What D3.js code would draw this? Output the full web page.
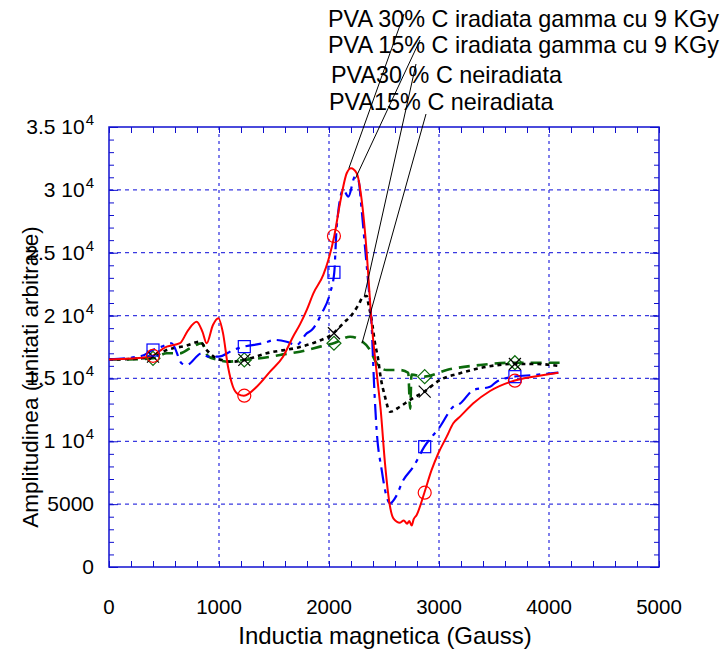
<!DOCTYPE html>
<html>
<head>
<meta charset="utf-8">
<script src="https://cdn.jsdelivr.net/npm/d3@7"></script>
<style>
  html, body { margin: 0; padding: 0; background: #ffffff; }
  svg text { font-family: "Liberation Sans", Arial, sans-serif; fill: #000; }
</style>
</head>
<body>
<svg id="chart" width="724" height="649"></svg>
<script>
// ---------------- DATA ----------------
const xTickLabels = ["0", "1000", "2000", "3000", "4000", "5000"];
const yTickValues = [0, 5000, 10000, 15000, 20000, 25000, 30000, 35000];
const yTickLabels = ["0", "5000", "1 10^4", "1.5 10^4", "2 10^4", "2.5 10^4", "3 10^4", "3.5 10^4"];

const seriesNames = [
  "PVA 30% C iradiata gamma cu 9 KGy",
  "PVA 15% C iradiata gamma cu 9 KGy",
  "PVA30 % C neiradiata",
  "PVA15% C neiradiata"
];

// PVA 30% C irradiated (red, solid, circles)
const redX = [0, 370, 525, 645, 720, 797, 850, 888, 945, 994, 1036, 1082, 1127, 1173, 1227, 1343, 1464, 1582, 1673, 1736, 1800, 1858, 1948, 1994, 2048, 2100, 2161, 2200, 2252, 2297, 2343, 2382, 2439, 2470, 2509, 2555, 2585, 2645, 2680, 2710, 2730, 2752, 2770, 2797, 2867, 2933, 2994, 3070, 3130, 3191, 3312, 3464, 3682, 3857, 4085];
const redY = [16500, 16730, 17530, 17800, 18850, 19510, 18700, 17800, 19250, 19790, 18620, 15930, 14340, 13760, 13630, 14340, 15540, 16730, 18320, 19300, 20500, 21770, 23230, 24420, 26330, 28930, 31320, 31720, 31320, 29200, 25000, 20000, 15000, 12500, 8250, 4800, 3870, 3520, 3700, 3450, 3650, 3300, 3800, 4140, 5910, 7720, 9050, 10370, 11430, 11960, 13020, 14000, 14820, 15140, 15460];

// PVA 15% C irradiated (blue, dash-dot, squares)
const blueX = [0, 300, 397, 479, 570, 661, 706, 843, 903, 994, 1130, 1227, 1403, 1509, 1615, 1706, 1797, 1843, 1934, 2009, 2048, 2070, 2130, 2176, 2236, 2267, 2297, 2327, 2357, 2388, 2410, 2433, 2479, 2524, 2555, 2600, 2676, 2767, 2867, 3009, 3130, 3191, 3312, 3464, 3524, 3682, 3857, 4085];
const blueY = [16500, 16800, 17260, 17530, 17800, 16200, 16070, 17000, 16730, 16730, 17260, 17530, 17800, 18060, 17920, 17660, 18590, 18850, 20180, 21770, 23440, 27070, 30000, 29460, 31050, 30790, 28400, 25480, 22570, 19120, 14500, 10900, 7720, 5590, 5070, 5470, 6920, 7980, 9570, 11160, 12750, 13000, 14080, 14340, 14740, 15140, 15270, 15460];

// PVA 30% C non-irradiated (black, dotted, X)
const blackX = [0, 300, 403, 525, 700, 827, 888, 979, 1130, 1227, 1433, 1736, 1888, 2039, 2130, 2206, 2267, 2312, 2343, 2357, 2388, 2418, 2448, 2464, 2509, 2555, 2645, 2736, 2867, 3009, 3191, 3433, 3682, 3888, 4085];
const blackY = [16500, 16600, 16730, 17260, 17600, 17920, 17260, 16600, 16330, 16470, 17000, 17500, 17920, 18590, 19390, 20050, 20840, 21500, 21560, 20980, 19650, 17800, 16470, 15410, 13550, 12350, 12750, 13290, 13950, 14880, 15410, 15930, 16150, 16150, 16000];

// PVA 15% C non-irradiated (green, dashed, diamonds)
const greenX = [0, 300, 403, 525, 645, 736, 843, 903, 994, 1082, 1227, 1373, 1555, 1736, 1918, 2055, 2191, 2282, 2373, 2433, 2524, 2645, 2720, 2738, 2750, 2867, 3070, 3373, 3676, 4100];
const greenY = [16500, 16550, 16600, 17000, 17000, 17400, 17800, 16730, 16470, 16330, 16470, 16600, 16870, 17130, 17530, 17840, 18320, 18060, 17260, 16200, 15670, 15670, 15450, 12600, 15300, 15140, 15670, 16070, 16250, 16250];

// marker positions (x, y)
const markerX = [400, 1230, 2045, 2870, 3690];
const redMarkY = [16800, 13630, 26330, 5910, 14820];
const blueMarkY = [17260, 17530, 23440, 9570, 15140];
const blackMarkY = [16730, 16470, 18590, 13950, 16150];
const greenMarkY = [16600, 16470, 17800, 15140, 16250];

// annotation leader lines: curve anchor (data) for each label
const anchorX = [2180, 2240, 2320, 2300];
const anchorY = [31700, 30900, 21500, 17800];

// ---------------- LAYOUT ----------------
const svg = d3.select("#chart");
const L = 109, R = 659, T = 127, B = 567;
const x = d3.scaleLinear().domain([0, 5000]).range([L, R]);
const y = d3.scaleLinear().domain([0, 35000]).range([B, T]);
const axisBlue = "#1010d0";
const gridBlue = "#3a3ae0";

svg.append("rect").attr("width", 724).attr("height", 649).attr("fill", "#fff");

// grid
const grid = svg.append("g");
[1000, 2000, 3000, 4000].forEach(v => {
  grid.append("line").attr("x1", x(v)).attr("x2", x(v)).attr("y1", T).attr("y2", B)
    .attr("stroke", gridBlue).attr("stroke-width", 1.3).attr("stroke-dasharray", "3,4");
});
[5000, 10000, 15000, 20000, 25000, 30000].forEach(v => {
  grid.append("line").attr("x1", L).attr("x2", R).attr("y1", y(v)).attr("y2", y(v))
    .attr("stroke", gridBlue).attr("stroke-width", 1.3).attr("stroke-dasharray", "4,4");
});

// axes (ticks inward on all four sides)
const xMinor = d3.range(0, 5001, 200);
const yMinor = d3.range(0, 35001, 1000);
function styleAxis(g) {
  g.select(".domain").remove();
  g.selectAll("line").attr("stroke", axisBlue).attr("stroke-width", 1);
  g.selectAll("text").remove();
}
svg.append("g").attr("transform", `translate(0,${B})`)
  .call(d3.axisBottom(x).tickValues(xMinor).tickSize(-6)).call(styleAxis);
svg.append("g").attr("transform", `translate(0,${T})`)
  .call(d3.axisTop(x).tickValues(xMinor).tickSize(-6)).call(styleAxis);
svg.append("g").attr("transform", `translate(${L},0)`)
  .call(d3.axisLeft(y).tickValues(yMinor).tickSize(-5)).call(styleAxis);
svg.append("g").attr("transform", `translate(${R},0)`)
  .call(d3.axisRight(y).tickValues(yMinor).tickSize(-5)).call(styleAxis);
svg.append("g").attr("transform", `translate(${L},0)`)
  .call(d3.axisLeft(y).tickValues(yTickValues).tickSize(-9)).call(styleAxis);
svg.append("g").attr("transform", `translate(${R},0)`)
  .call(d3.axisRight(y).tickValues(yTickValues).tickSize(-9)).call(styleAxis);

svg.append("rect").attr("x", L).attr("y", T).attr("width", R - L).attr("height", B - T)
  .attr("fill", "none").attr("stroke", axisBlue).attr("stroke-width", 1.5);

// x tick labels
const xl = svg.append("g");
xTickLabels.forEach((t, i) => {
  xl.append("text").attr("x", x(+t)).attr("y", 614).attr("text-anchor", "middle")
    .attr("font-size", 20.5).text(t);
});
// y tick labels with superscripts
const yl = svg.append("g");
yTickLabels.forEach((t, i) => {
  const txt = yl.append("text").attr("x", 94).attr("y", y(yTickValues[i]) + 7)
    .attr("text-anchor", "end").attr("font-size", 21);
  if (t.includes("^")) {
    const [base, exp] = t.split("^");
    txt.append("tspan").text(base);
    txt.append("tspan").attr("font-size", 15).attr("dx", 1).attr("dy", -9).text(exp);
  } else {
    txt.text(t);
  }
});

// axis titles
svg.append("text").attr("x", 385).attr("y", 644).attr("text-anchor", "middle")
  .attr("font-size", 24).text("Inductia magnetica (Gauss)");
svg.append("text").attr("transform", "translate(38,377) rotate(-90)")
  .attr("text-anchor", "middle").attr("font-size", 22.5).text("Amplitudinea (unitati arbitrare)");

// curves
const line = d3.line().x(d => x(d[0])).y(d => y(d[1])).curve(d3.curveMonotoneX);
const series = [
  { xs: greenX, ys: greenY, color: "#0c6a0c", dash: "11,7", w: 2.6, my: greenMarkY, mk: "diamond" },
  { xs: blackX, ys: blackY, color: "#000000", dash: "4,4", w: 2.6, my: blackMarkY, mk: "x" },
  { xs: blueX, ys: blueY, color: "#0000ff", dash: "16,6,4,6", w: 2.2, my: blueMarkY, mk: "square" },
  { xs: redX, ys: redY, color: "#ff0000", dash: null, w: 2, my: redMarkY, mk: "circle" }
];
const plot = svg.append("g");
series.forEach(s => {
  const pts = s.xs.map((v, i) => [v, s.ys[i]]);
  plot.append("path").datum(pts).attr("d", line).attr("fill", "none")
    .attr("stroke", s.color).attr("stroke-width", s.w)
    .attr("stroke-dasharray", s.dash);
});
series.forEach(s => {
  markerX.forEach((mx, i) => {
    const cx = x(mx), cy = y(s.my[i]);
    if (s.mk === "circle") {
      plot.append("circle").attr("cx", cx).attr("cy", cy).attr("r", 6.5)
        .attr("fill", "none").attr("stroke", s.color).attr("stroke-width", 1.2);
    } else if (s.mk === "square") {
      plot.append("rect").attr("x", cx - 6).attr("y", cy - 6).attr("width", 12).attr("height", 12)
        .attr("fill", "none").attr("stroke", s.color).attr("stroke-width", 1.2);
    } else if (s.mk === "x") {
      plot.append("path").attr("d", `M${cx-6},${cy-6}L${cx+6},${cy+6}M${cx-6},${cy+6}L${cx+6},${cy-6}`)
        .attr("stroke", s.color).attr("stroke-width", 1.2);
    } else {
      plot.append("path").attr("d", `M${cx},${cy-7}L${cx+7},${cy}L${cx},${cy+7}L${cx-7},${cy}Z`)
        .attr("fill", "none").attr("stroke", s.color).attr("stroke-width", 1.2);
    }
  });
});

// labels and leader lines
const labelX = [328, 328, 331, 329];
const labelY = [27, 53, 83, 110];
const lineTop = [[404, 14], [420, 40], [416, 64], [426, 114]];
seriesNames.forEach((n, i) => {
  svg.append("text").attr("x", labelX[i]).attr("y", labelY[i]).attr("font-size", 23.4).text(n);
  svg.append("line").attr("x1", x(anchorX[i])).attr("y1", y(anchorY[i]))
    .attr("x2", lineTop[i][0]).attr("y2", lineTop[i][1])
    .attr("stroke", "#000").attr("stroke-width", 1);
});
</script>
</body>
</html>
